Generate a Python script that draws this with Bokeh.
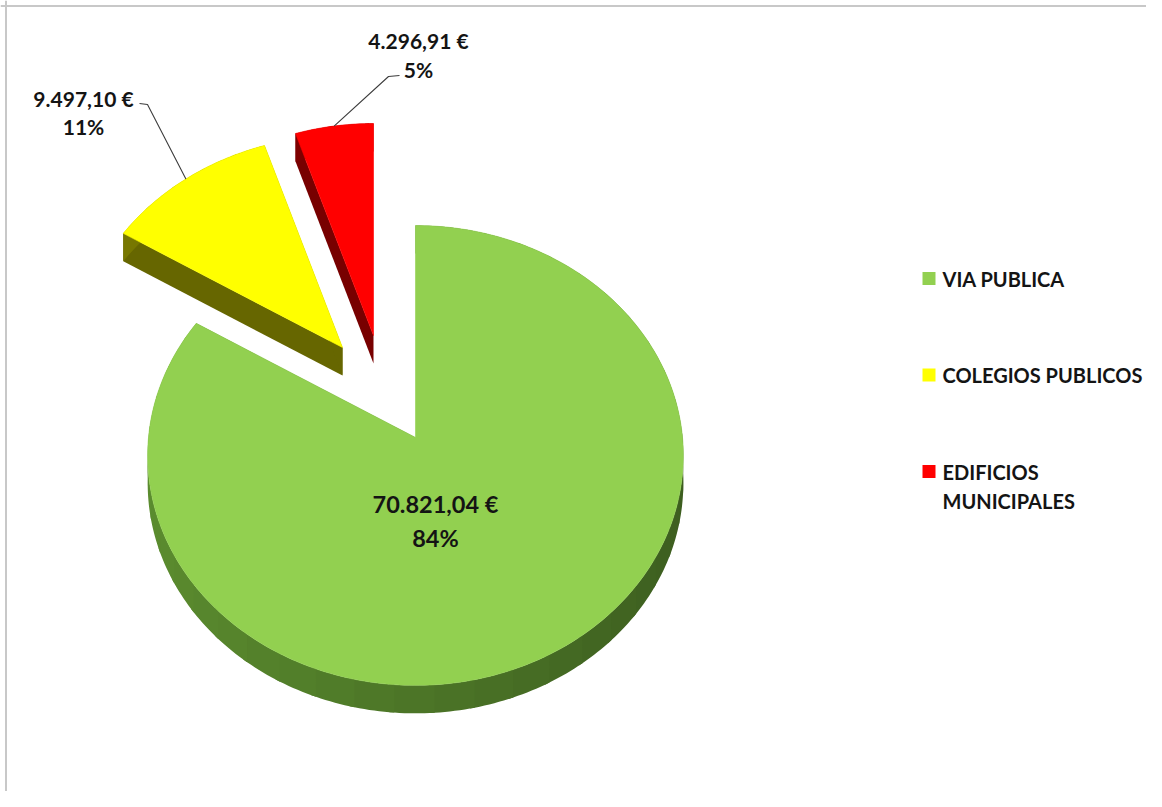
import math
from bokeh.plotting import figure
from bokeh.models import Range1d, Span
from bokeh.core.properties import value
from bokeh.embed import file_html
from bokeh.resources import INLINE

# ---------------- data ----------------
categories = ["VIA PUBLICA", "COLEGIOS PUBLICOS", "EDIFICIOS MUNICIPALES"]
legend_lines = [["VIA PUBLICA"], ["COLEGIOS PUBLICOS"], ["EDIFICIOS", "MUNICIPALES"]]
amounts = [70821.04, 9497.10, 4296.91]
top_colors = ["#92D050", "#FFFF00", "#FF0000"]
side_colors = ["#4C7527", "#666600", "#780000"]

# ---------------- layout / style ----------------
W, H = 1146, 791
CX, CY = 415.0, 437.0          # pie centre (screen px)
RX, RY = 267.0, 228.5          # radii of the tilted pie
PERSP = 0.078                  # perspective factor (far side smaller)
DEPTH = 28.0                   # thickness of the pie
EXPLODE = [(0.0, 0.0), (-73.0, -90.0), (-42.0, -102.0)]
FONT = value("Lato")
TXT = "#141414"


def fmt_eur(v):
    s = f"{v:,.2f}"
    s = s.replace(",", "X").replace(".", ",").replace("X", ".")
    return s + " €"


def rim(cx, cy, th):
    w = 1.0 / (1.0 + PERSP * math.cos(th))
    return cx + RX * math.sin(th) * w, cy - RY * math.cos(th) * w


def shade(hexcol, f):
    r, g, b = (int(hexcol[i:i + 2], 16) for i in (1, 3, 5))
    c = [max(0, min(255, int(round(v * f)))) for v in (r, g, b)]
    return "#%02x%02x%02x" % tuple(c)


total = sum(amounts)
fracs = [a / total for a in amounts]
starts = []
acc = 0.0
for f in fracs:
    starts.append(acc)
    acc += f

p = figure(width=W, height=H, x_range=Range1d(0, W), y_range=Range1d(H, 0),
           output_backend="svg", toolbar_location=None, min_border=0,
           x_axis_type=None, y_axis_type=None, background_fill_color="white")
p.xgrid.visible = False
p.ygrid.visible = False
p.outline_line_color = None

# frame border (left and top visible in the reference)
p.add_layout(Span(location=5.5, dimension="height", line_color="#C8C8C8", line_width=2))
p.add_layout(Span(location=5.5, dimension="width", line_color="#C8C8C8", line_width=2))

mid_map = {}
draw_order = [2, 1, 0]
CHUNK = 8
for i in draw_order:
    ex, ey = EXPLODE[i]
    vx, vy = CX + ex, CY + ey
    a0 = 2 * math.pi * starts[i]
    a1 = 2 * math.pi * (starts[i] + fracs[i])
    n = max(4, int(math.degrees(a1 - a0)))
    ths = [a0 + (a1 - a0) * k / n for k in range(n + 1)]
    pts = [rim(vx, vy, t) for t in ths]

    sx, sy, sc = [], [], []
    # radial cut faces
    for (px, py) in (pts[0], pts[-1]):
        sx.append([vx, px, px, vx])
        sy.append([vy, py, py + DEPTH, vy + DEPTH])
        sc.append(side_colors[i])
    # outer rim band, in overlapping chunks
    k = 0
    while k < n:
        k2 = min(n, k + CHUNK + 1)
        seg = pts[k:k2 + 1]
        tm = 0.5 * (ths[k] + ths[min(n, k + CHUNK)])
        f = 1.0 - 0.2 * math.sin(tm)
        sx.append([q[0] for q in seg] + [q[0] for q in reversed(seg)])
        sy.append([q[1] for q in seg] + [q[1] + DEPTH for q in reversed(seg)])
        sc.append(shade(side_colors[i], f))
        k += CHUNK
    p.patches(xs=sx, ys=sy, fill_color=sc, line_color=None)

    # top face
    tx = [vx] + [q[0] for q in pts]
    ty = [vy] + [q[1] for q in pts]
    p.patch(tx, ty, fill_color=top_colors[i], line_color=top_colors[i], line_width=0.6)

    mid_map[i] = rim(vx, vy, 0.5 * (a0 + a1))

# ---------------- data labels ----------------
pcts = [f"{round(f * 100)}%" for f in fracs]
vals = [fmt_eur(a) for a in amounts]

# main slice label (inside)
p.text(x=[435, 435], y=[503, 537], text=[vals[0], pcts[0]], text_font=FONT,
       text_font_style="bold", text_font_size="23.5px", text_align="center",
       text_baseline="middle", text_color=TXT)

# outside labels with leader lines
label_pos = {1: (83, 98, 126), 2: (418, 40, 69)}
hook = {1: ((139, 103), (147, 104)), 2: ((399, 75), (388, 76))}
for i in (1, 2):
    lx, ly1, ly2 = label_pos[i]
    p.text(x=[lx, lx], y=[ly1, ly2], text=[vals[i], pcts[i]], text_font=FONT,
           text_font_style="bold", text_font_size="21px", text_align="center",
           text_baseline="middle", text_color=TXT)
    (h0x, h0y), (h1x, h1y) = hook[i]
    mx, my = mid_map[i]
    p.line([h0x, h1x, mx], [h0y, h1y, my], line_color="#3C3C3C", line_width=1.1)

# ---------------- legend ----------------
LEG_X, LEG_Y0, LEG_DY, LINE_DY = 928.5, 278, 96.5, 29
for i, lines in enumerate(legend_lines):
    y = LEG_Y0 + i * LEG_DY
    p.scatter([LEG_X], [y], marker="square", size=13, fill_color=top_colors[i],
              line_color=None)
    p.text(x=[LEG_X + 13.5] * len(lines), y=[y + k * LINE_DY for k in range(len(lines))],
           text=lines, text_font=FONT, text_font_style="bold", text_font_size="20px",
           text_align="left", text_baseline="middle", text_color=TXT)

open("out.html", "w").write(file_html(p, INLINE))
